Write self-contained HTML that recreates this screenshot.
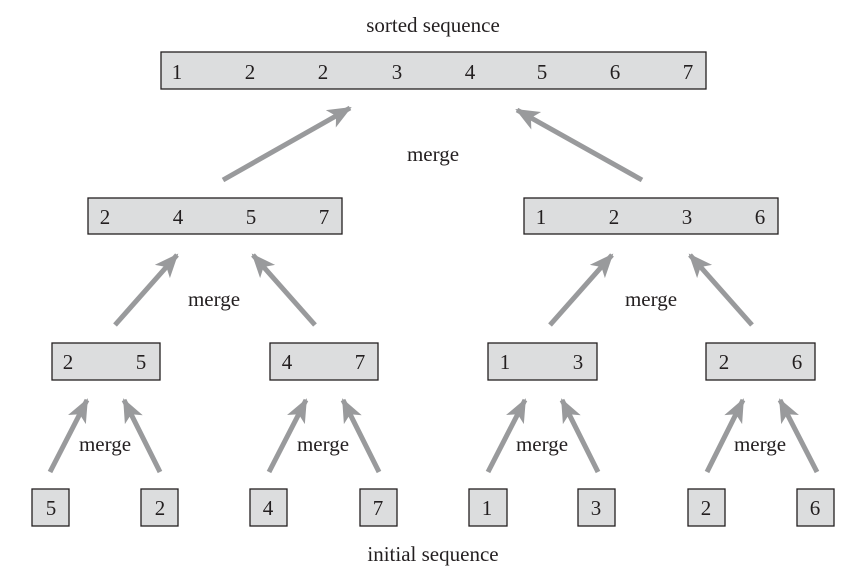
<!DOCTYPE html>
<html><head><meta charset="utf-8"><style>
html,body{margin:0;padding:0;background:#fff;}
svg{display:block;}
text{font-family:"Liberation Serif",serif;font-size:21px;fill:#231f20;}
.n{text-anchor:middle;}
rect{fill:#dcddde;stroke:#231f20;stroke-width:1.3;}
line{stroke:#999a9c;stroke-width:5;}
</style></head><body>
<svg width="851" height="577" viewBox="0 0 851 577" xmlns="http://www.w3.org/2000/svg">
<defs>
<marker id="a" markerUnits="userSpaceOnUse" markerWidth="30" markerHeight="30" refX="22" refY="10" orient="auto">
<path d="M0,0 L24,10 L0,20 L6,10 Z" fill="#999a9c"/>
</marker>
</defs>
<text x="433" y="32" class="n">sorted sequence</text>
<text x="433" y="561" class="n">initial sequence</text>

<rect x="161" y="52" width="545" height="37"/>
<g class="n">
<text x="177" y="79" class="n">1</text><text x="250" y="79" class="n">2</text><text x="323" y="79" class="n">2</text><text x="397" y="79" class="n">3</text><text x="470" y="79" class="n">4</text><text x="542" y="79" class="n">5</text><text x="615" y="79" class="n">6</text><text x="688" y="79" class="n">7</text>
</g>

<rect x="88" y="198" width="254" height="36"/>
<text x="105" y="224" class="n">2</text><text x="178" y="224" class="n">4</text><text x="251" y="224" class="n">5</text><text x="324" y="224" class="n">7</text>
<rect x="524" y="198" width="254" height="36"/>
<text x="541" y="224" class="n">1</text><text x="614" y="224" class="n">2</text><text x="687" y="224" class="n">3</text><text x="760" y="224" class="n">6</text>

<rect x="52" y="343" width="108" height="37"/>
<text x="68" y="369" class="n">2</text><text x="141" y="369" class="n">5</text>
<rect x="270" y="343" width="108" height="37"/>
<text x="287" y="369" class="n">4</text><text x="360" y="369" class="n">7</text>
<rect x="488" y="343" width="109" height="37"/>
<text x="505" y="369" class="n">1</text><text x="578" y="369" class="n">3</text>
<rect x="706" y="343" width="109" height="37"/>
<text x="724" y="369" class="n">2</text><text x="797" y="369" class="n">6</text>

<rect x="32" y="489" width="37" height="37"/><text x="51" y="515" class="n">5</text>
<rect x="141" y="489" width="37" height="37"/><text x="160" y="515" class="n">2</text>
<rect x="250" y="489" width="37" height="37"/><text x="268" y="515" class="n">4</text>
<rect x="360" y="489" width="37" height="37"/><text x="378" y="515" class="n">7</text>
<rect x="469" y="489" width="38" height="37"/><text x="487" y="515" class="n">1</text>
<rect x="578" y="489" width="37" height="37"/><text x="596" y="515" class="n">3</text>
<rect x="688" y="489" width="37" height="37"/><text x="706" y="515" class="n">2</text>
<rect x="797" y="489" width="37" height="37"/><text x="815" y="515" class="n">6</text>

<line x1="223" y1="180" x2="350" y2="108" marker-end="url(#a)"/>
<line x1="642" y1="180" x2="517" y2="110" marker-end="url(#a)"/>
<line x1="115" y1="325" x2="177" y2="255" marker-end="url(#a)"/>
<line x1="315" y1="325" x2="253" y2="255" marker-end="url(#a)"/>
<line x1="550" y1="325" x2="612" y2="255" marker-end="url(#a)"/>
<line x1="752" y1="325" x2="690" y2="255" marker-end="url(#a)"/>
<line x1="50" y1="472" x2="87" y2="400" marker-end="url(#a)"/>
<line x1="160" y1="472" x2="124" y2="400" marker-end="url(#a)"/>
<line x1="269" y1="472" x2="306" y2="400" marker-end="url(#a)"/>
<line x1="379" y1="472" x2="343" y2="400" marker-end="url(#a)"/>
<line x1="488" y1="472" x2="525" y2="400" marker-end="url(#a)"/>
<line x1="598" y1="472" x2="562" y2="400" marker-end="url(#a)"/>
<line x1="707" y1="472" x2="743" y2="400" marker-end="url(#a)"/>
<line x1="817" y1="472" x2="780" y2="400" marker-end="url(#a)"/>

<text x="433" y="161" class="n">merge</text>
<text x="214" y="306" class="n">merge</text>
<text x="651" y="306" class="n">merge</text>
<text x="105" y="451" class="n">merge</text>
<text x="323" y="451" class="n">merge</text>
<text x="542" y="451" class="n">merge</text>
<text x="760" y="451" class="n">merge</text>
</svg>
</body></html>
